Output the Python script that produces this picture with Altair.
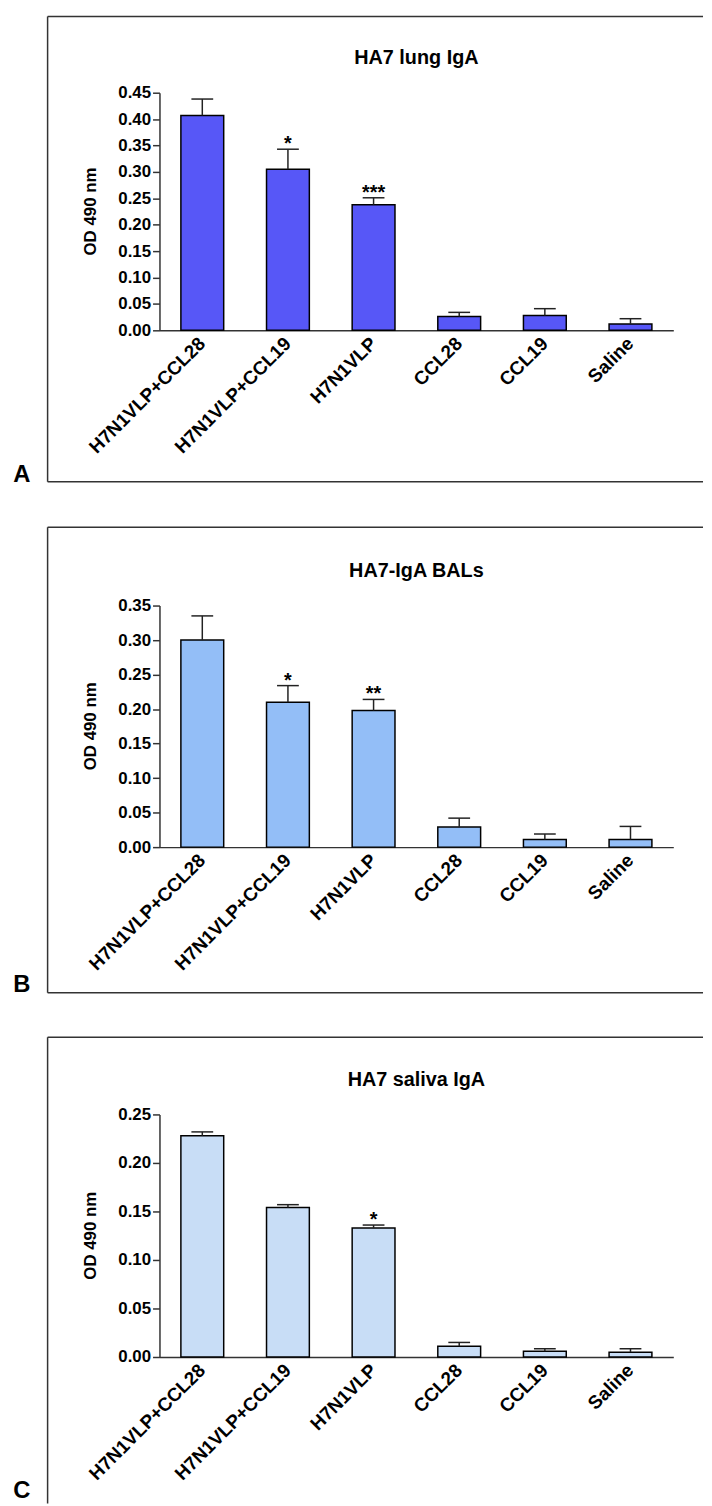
import altair as alt
import pandas as pd

categories = ["H7N1VLP+CCL28", "H7N1VLP+CCL19", "H7N1VLP", "CCL28", "CCL19", "Saline"]

lung_mean = [0.407, 0.305, 0.238, 0.026, 0.028, 0.012]
lung_upper = [0.438, 0.343, 0.251, 0.034, 0.041, 0.022]
lung_stars = ["", "*", "***", "", "", ""]
lung_ticks = [0.00, 0.05, 0.10, 0.15, 0.20, 0.25, 0.30, 0.35, 0.40, 0.45]

bal_mean = [0.300, 0.210, 0.198, 0.029, 0.011, 0.011]
bal_upper = [0.335, 0.234, 0.214, 0.042, 0.019, 0.030]
bal_stars = ["", "*", "**", "", "", ""]
bal_ticks = [0.00, 0.05, 0.10, 0.15, 0.20, 0.25, 0.30, 0.35]

saliva_mean = [0.228, 0.154, 0.133, 0.011, 0.006, 0.005]
saliva_upper = [0.232, 0.157, 0.136, 0.015, 0.0085, 0.0085]
saliva_stars = ["", "", "*", "", "", ""]
saliva_ticks = [0.00, 0.05, 0.10, 0.15, 0.20, 0.25]

FONT = "Liberation Sans"
W = 519
LINE = "#333333"


def panel(title, letter, mean, upper, stars, color, ymax, ticks, h,
          frame_top, frame_bottom, bottom_line, letter_y):
    df = pd.DataFrame({"group": categories, "mean": mean, "upper": upper, "star": stars})
    base = alt.Chart(df)
    deco = alt.Chart(alt.Data(values=[{"k": 1}]))

    xenc = alt.X(
        "group:N", sort=categories,
        scale=alt.Scale(paddingInner=0.5, paddingOuter=0.25),
        axis=alt.Axis(title=None, labelAngle=-45, labelAlign="right", labelBaseline="middle",
                      ticks=False, tickSize=0, labelPadding=10, domainColor=LINE, domainWidth=1.5,
                      labelFont=FONT, labelFontSize=19, labelFontWeight="bold",
                      labelColor="black", grid=False),
    )
    yscale = alt.Scale(domain=[0, ymax], nice=False, zero=True)
    yaxis = alt.Axis(title=None, values=ticks, format=".2f", tickSize=7, tickWidth=1.5,
                     tickColor=LINE, domainColor=LINE, domainWidth=1.5, labelPadding=2,
                     labelFont=FONT, labelFontSize=17, labelFontWeight="bold",
                     labelColor="black", grid=False, labelFlush=False)

    bars = base.mark_bar(fill=color, stroke="black", strokeWidth=1.5).encode(
        x=xenc, y=alt.Y("mean:Q", scale=yscale, axis=yaxis))
    whisk = base.mark_rule(color="#222222", strokeWidth=1.5).encode(
        x=xenc, y=alt.Y("mean:Q", scale=yscale, axis=yaxis), y2="upper:Q")
    caps = base.mark_tick(color="#222222", thickness=1.5, size=22, opacity=1).encode(
        x=xenc, y=alt.Y("upper:Q", scale=yscale, axis=yaxis))
    star_text = base.mark_text(font=FONT, fontSize=20, fontWeight="bold", baseline="alphabetic",
                               dy=1, color="black").encode(
        x=xenc, y=alt.Y("upper:Q", scale=yscale, axis=yaxis), text="star:N")

    layers = [
        deco.mark_rule(color=LINE, strokeWidth=1.5).encode(
            x=alt.value(-113), x2=alt.value(549), y=alt.value(frame_top), y2=alt.value(frame_top)),
        deco.mark_rule(color=LINE, strokeWidth=1.5).encode(
            x=alt.value(-113), x2=alt.value(-113), y=alt.value(frame_top), y2=alt.value(frame_bottom)),
    ]
    if bottom_line:
        layers.append(deco.mark_rule(color=LINE, strokeWidth=1.5).encode(
            x=alt.value(-113), x2=alt.value(549), y=alt.value(frame_bottom), y2=alt.value(frame_bottom)))
    layers += [
        bars, whisk, caps, star_text,
        deco.mark_text(text=title, font=FONT, fontSize=20, fontWeight="bold", align="center",
                       baseline="alphabetic", color="black").encode(
            x=alt.value(W / 2), y=alt.value(-29)),
        deco.mark_text(text="OD 490 nm", font=FONT, fontSize=17, fontWeight="bold", align="center",
                       baseline="middle", angle=270, color="black").encode(
            x=alt.value(-69), y=alt.value(h / 2)),
        deco.mark_text(text=letter, font=FONT, fontSize=24, fontWeight="bold", align="center",
                       baseline="alphabetic", color="black").encode(
            x=alt.value(-139), y=alt.value(letter_y)),
    ]
    return alt.layer(*layers).properties(width=W, height=h)


pA = panel("HA7 lung IgA", "A", lung_mean, lung_upper, lung_stars, "#5757F7", 0.45, lung_ticks,
           240, -77, 393, True, 393)
pB = panel("HA7-IgA BALs", "B", bal_mean, bal_upper, bal_stars, "#93BEF7", 0.35, bal_ticks,
           244, -79, 391, True, 390)
pC = panel("HA7 saliva IgA", "C", saliva_mean, saliva_upper, saliva_stars, "#C8DDF6", 0.25, saliva_ticks,
           245, -78, 393, False, 387)

chart = alt.vconcat(pA, pB, pC, spacing=40).properties(
    padding={"left": 5, "top": 0, "right": 0, "bottom": 0}
).configure_view(strokeWidth=0)

chart.save("out.html", embed_options={"renderer": "svg", "actions": False})
